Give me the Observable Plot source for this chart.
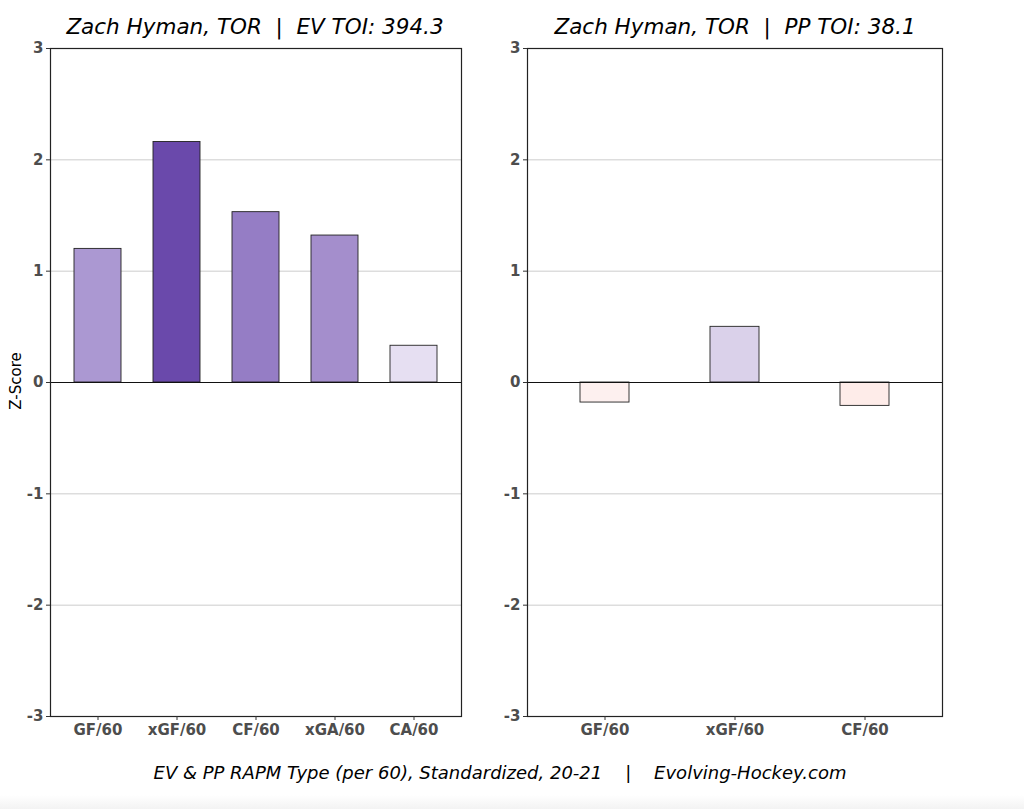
<!DOCTYPE html>
<html>
<head>
<meta charset="utf-8">
<script src="https://cdn.jsdelivr.net/npm/d3@7"></script>
<script src="https://cdn.jsdelivr.net/npm/@observablehq/plot@0.6"></script>
<style>
  html, body { margin: 0; padding: 0; background: white; }
  #wrap { position: relative; width: 1024px; height: 809px; overflow: hidden; font-family: "DejaVu Sans", sans-serif; background: white; }
  .abs { position: absolute; }
  .title { font-style: italic; font-size: 21.5px; color: #000; white-space: pre; text-align: center; top: 14px; z-index: 2; }
  .caption { font-style: italic; font-size: 18px; color: #000; white-space: pre; text-align: center; left: 0; width: 1000px; top: 762px; z-index: 2; }
  .ylab { font-size: 15px; color: #000; transform: rotate(-90deg); transform-origin: center; z-index: 2; white-space: pre; }
  #strip { left: 0; top: 795px; width: 1024px; height: 14px; background: linear-gradient(#ffffff, #f3f3f3); z-index: 3; }
</style>
</head>
<body>
<div id="wrap"></div>
<script>
// EV panel data
const evCategories = ["GF/60", "xGF/60", "CF/60", "xGA/60", "CA/60"];
const evValues = [1.20, 2.16, 1.53, 1.32, 0.33];
const evColors = ["#ab98d2", "#6a49ab", "#957dc5", "#a48ecc", "#e6dff2"];
// PP panel data
const ppCategories = ["GF/60", "xGF/60", "CF/60"];
const ppValues = [-0.18, 0.50, -0.21];
const ppColors = ["#fdf0ef", "#dad1ea", "#feece9"];
const yTicks = [-3, -2, -1, 0, 1, 2, 3];
const gridTicks = [-2, -1, 1, 2];
const evTitle = "Zach Hyman, TOR  |  EV TOI: 394.3";
const ppTitle = "Zach Hyman, TOR  |  PP TOI: 38.1";
const captionText = "EV & PP RAPM Type (per 60), Standardized, 20-21    |    Evolving-Hockey.com";
const yLabel = "Z-Score";

const wrap = document.getElementById("wrap");

function panel(cats, vals, cols, opts) {
  const data = cats.map((c, i) => ({cat: c, val: vals[i], color: cols[i]}));
  return Plot.plot({
    width: opts.width,
    height: 760,
    marginTop: 48,
    marginBottom: 44,
    marginLeft: opts.marginLeft,
    marginRight: opts.marginRight,
    style: {background: "transparent", fontFamily: "DejaVu Sans, sans-serif", overflow: "visible"},
    x: {domain: cats, paddingInner: opts.pi, paddingOuter: opts.po, label: null},
    y: {domain: [-3, 3], label: null},
    marks: [
      Plot.gridY(gridTicks, {stroke: "#cccccc", strokeOpacity: 1, strokeWidth: 1}),
      Plot.barY(data, {x: "cat", y: "val", fill: d => d.color, stroke: "#222", strokeWidth: 0.9}),
      Plot.ruleY([0], {stroke: "#111", strokeWidth: 1.2}),
      Plot.frame({stroke: "#222", strokeWidth: 1.2}),
      Plot.axisY({ticks: yTicks, tickSize: 4, tickPadding: 3, fontSize: 15, fontWeight: "bold", fill: "#4d4d4d", stroke: "#333", label: null, tickFormat: d => String(d)}),
      Plot.axisX({tickSize: 4, tickPadding: 4, fontSize: 15, fontWeight: "bold", fill: "#4d4d4d", stroke: "#333", label: null})
    ]
  });
}

const left = panel(evCategories, evValues, evColors, {width: 470, marginLeft: 50, marginRight: 9, pi: 0.4, po: 0.3});
left.classList.add("abs");
left.style.left = "0px"; left.style.top = "0px";
wrap.appendChild(left);

const right = panel(ppCategories, ppValues, ppColors, {width: 554, marginLeft: 57, marginRight: 82, pi: 0.623, po: 0.404});
right.classList.add("abs");
right.style.left = "470px"; right.style.top = "0px";
wrap.appendChild(right);

function addDiv(cls, text, css) {
  const d = document.createElement("div");
  d.className = "abs " + cls;
  d.textContent = text;
  Object.assign(d.style, css);
  wrap.appendChild(d);
  return d;
}
addDiv("title", evTitle, {left: "55px", width: "400px"});
addDiv("title", ppTitle, {left: "535px", width: "400px"});
addDiv("caption", captionText, {});
addDiv("ylab", yLabel, {left: "-15px", top: "372px", width: "62px", textAlign: "center"});
addDiv("", "", {}).id = "strip";
</script>
</body>
</html>
